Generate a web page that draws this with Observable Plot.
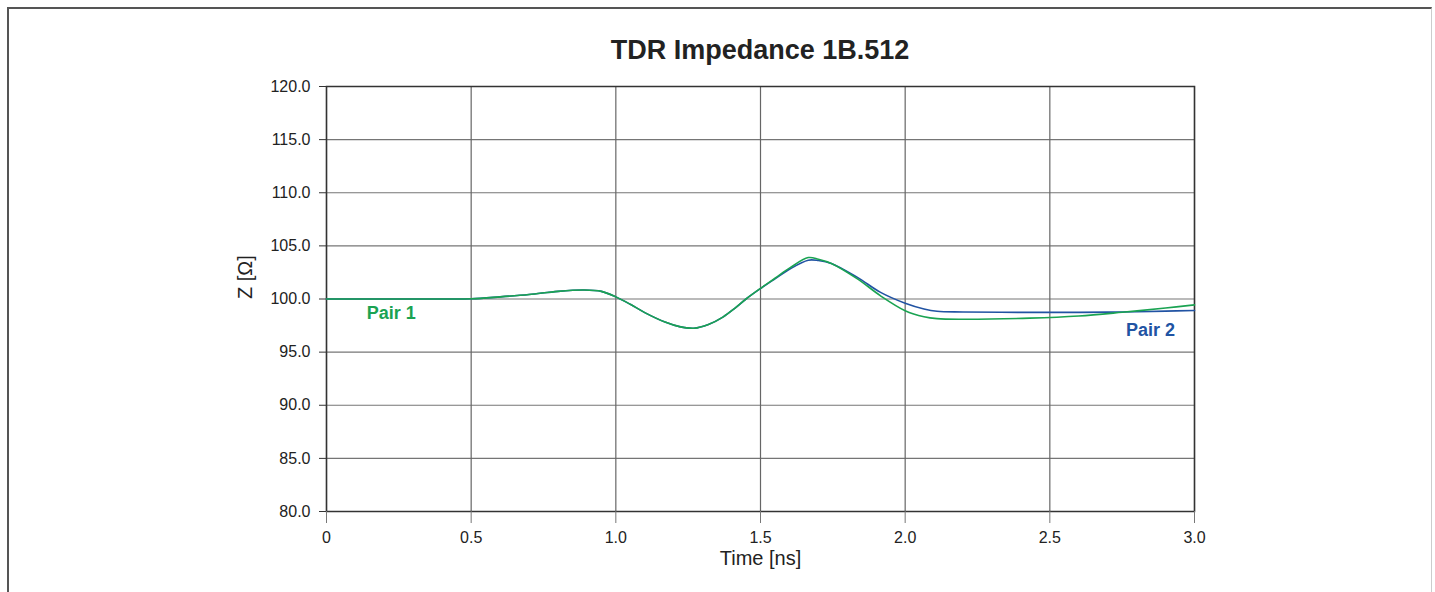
<!DOCTYPE html>
<html>
<head>
<meta charset="utf-8">
<script src="https://cdn.jsdelivr.net/npm/d3@7"></script>
<script src="https://cdn.jsdelivr.net/npm/@observablehq/plot@0.6"></script>
<style>
  html, body { margin: 0; padding: 0; background: #fff; overflow: hidden; }
  body { width: 1435px; height: 592px; position: relative; font-family: "Liberation Sans", Arial, sans-serif; }
  #border { position: absolute; left: 7px; top: 7px; width: 1425px; height: 620px; border-left: 2px solid #555; border-top: 2px solid #555; border-right: 1px solid #ccc; box-sizing: border-box; }
  #title { position: relative; height: 70px; box-sizing: border-box; padding-left: 85px; padding-top: 35px; text-align: center; font-weight: bold; font-size: 27px; color: #222; line-height: 30px; }
  #chart { position: relative; }
</style>
</head>
<body>
<div id="border"></div>
<div id="title">TDR Impedance 1B.512</div>
<div id="chart"></div>
<script>
const time  = [0, 0.2, 0.4, 0.5, 0.6, 0.7, 0.8, 0.89, 0.95, 1.0, 1.05, 1.1, 1.17, 1.22, 1.27, 1.32, 1.37, 1.41, 1.45, 1.5, 1.55, 1.6, 1.665, 1.7, 1.745, 1.835, 1.915, 2.0, 2.065, 2.11, 2.2, 2.43, 2.6, 2.75, 2.9, 3.0];
const pair1 = [100, 100, 100, 100.02, 100.2, 100.42, 100.72, 100.85, 100.72, 100.2, 99.5, 98.72, 97.83, 97.4, 97.25, 97.6, 98.3, 99.1, 100.0, 101.0, 101.95, 102.9, 103.9, 103.75, 103.35, 101.9, 100.3, 98.9, 98.33, 98.15, 98.1, 98.2, 98.4, 98.75, 99.15, 99.45];
const pair2 = [100, 100, 100, 100.02, 100.2, 100.42, 100.72, 100.85, 100.72, 100.2, 99.5, 98.72, 97.83, 97.4, 97.25, 97.6, 98.3, 99.1, 100.0, 100.98, 101.9, 102.8, 103.65, 103.62, 103.35, 102.03, 100.62, 99.6, 99.06, 98.84, 98.78, 98.74, 98.74, 98.78, 98.86, 98.92];
const xTicks = [0, 0.5, 1.0, 1.5, 2.0, 2.5, 3.0];
const yTicks = [80, 85, 90, 95, 100, 105, 110, 115, 120];
const seriesNames = ["Pair 1", "Pair 2"];
const labelPos = [{name: "Pair 1", x: 0.224, y: 98.62}, {name: "Pair 2", x: 2.848, y: 97.1}];

const green = "#1aa352";
const blue = "#2153a3";

const rows1 = time.map((t, i) => ({t, z: pair1[i]}));
const rows2 = time.map((t, i) => ({t, z: pair2[i]}));

const chart = Plot.plot({
  width: 1435,
  height: 522,
  marginTop: 16,
  marginLeft: 326,
  marginRight: 241,
  marginBottom: 81,
  style: {fontFamily: "'Liberation Sans', Arial, sans-serif", color: "#222", background: "transparent"},
  x: {domain: [0, 3]},
  y: {domain: [80, 120]},
  marks: [
    Plot.gridX(xTicks, {stroke: "#555", strokeOpacity: 0.9, strokeWidth: 1.2}),
    Plot.gridY(yTicks, {stroke: "#666", strokeOpacity: 0.9, strokeWidth: 1.2}),
    Plot.frame({stroke: "#333", strokeWidth: 1.5}),
    Plot.axisX(xTicks, {tickSize: 12, tickPadding: 8, fontSize: 16, stroke: "#777",
      tickFormat: d => d === 0 ? "0" : d3.format(".1f")(d), label: null}),
    Plot.axisY(yTicks, {tickSize: 7, tickPadding: 9, fontSize: 16, stroke: "#333",
      tickFormat: d3.format(".1f"), label: null}),
    Plot.line(rows2, {x: "t", y: "z", stroke: blue, strokeWidth: 1.6, curve: "catmull-rom"}),
    Plot.line(rows1, {x: "t", y: "z", stroke: green, strokeWidth: 1.6, curve: "catmull-rom"}),
    Plot.text(labelPos, {x: "x", y: "y", text: "name", fill: d => d.name === seriesNames[0] ? green : blue,
      fontWeight: "bold", fontSize: 18}),
    Plot.text(["Time [ns]"], {frameAnchor: "bottom", lineAnchor: "middle", dy: 47, fontSize: 20, fill: "#222"}),
    Plot.text(["Z [Ω]"], {frameAnchor: "left", lineAnchor: "middle", dx: -81, rotate: -90, fontSize: 20, fill: "#222"})
  ]
});
document.getElementById("chart").appendChild(chart);
</script>
</body>
</html>
